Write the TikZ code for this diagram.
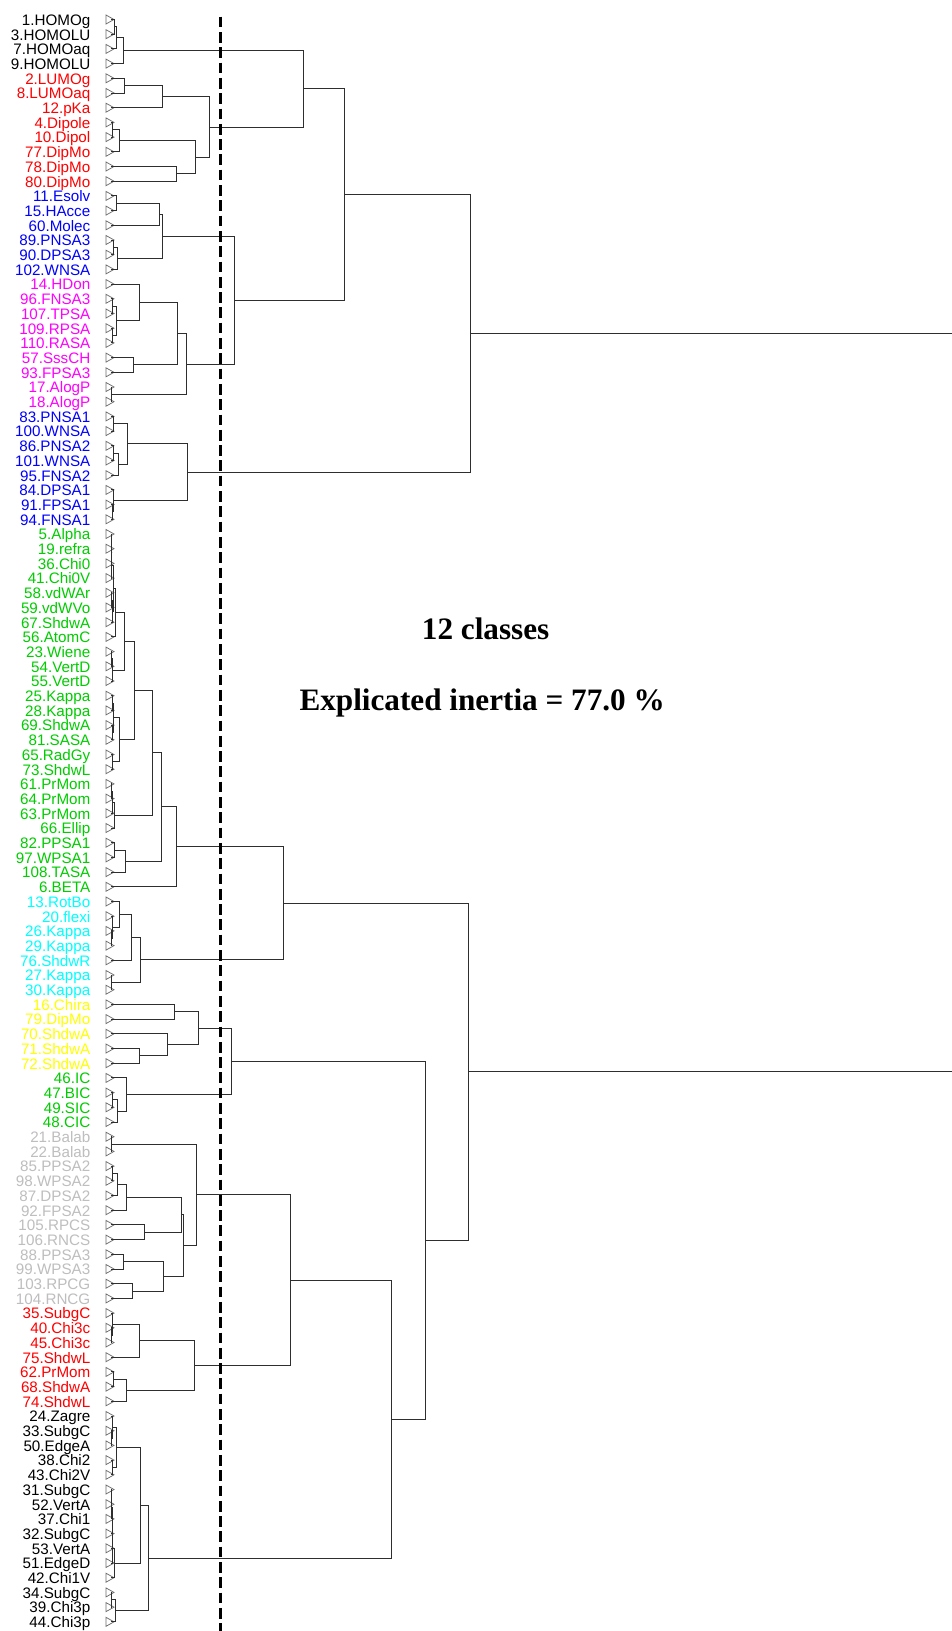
\documentclass[tikz,border=0pt]{standalone}
\usepackage{fontspec}
\usetikzlibrary{calc}
\newfontfamily\labfont{Liberation Sans}
\newfontfamily\titfont{Liberation Serif}
\definecolor{rred}{RGB}{255,0,0}
\definecolor{rblue}{RGB}{0,0,255}
\definecolor{rmag}{RGB}{255,0,255}
\definecolor{rgreen}{RGB}{0,205,0}
\definecolor{rcyan}{RGB}{0,255,255}
\definecolor{ryellow}{RGB}{255,255,0}
\definecolor{rgray}{RGB}{190,190,190}
\definecolor{trigray}{RGB}{110,110,110}
\tikzset{
  lab/.style={anchor=base east,inner sep=0pt,font=\labfont\fontsize{15.2}{18}\selectfont},
  tri/.style={draw=trigray,line width=0.75pt,line join=miter},
  dend/.style={draw=black!82,line width=0.95pt},
  cutline/.style={draw=black,line width=2.7pt,dash pattern=on 10.7pt off 4.6pt},
  ttl/.style={anchor=base west,inner sep=0pt,font=\titfont\bfseries\fontsize{31.2}{36}\selectfont}
}
\newcommand\leafx[3]{%
  \pgfmathsetmacro\ly{19.5+14.7*#1}%
  \pgfmathsetmacro\lb{\ly+5.8}%
  \coordinate (l#1) at (111,\ly);
  \node[lab,text=#3] (t#1) at (90.5,\lb) {#2};
  \pgfmathsetmacro\lya{\ly-4.5}%
  \pgfmathsetmacro\lyb{\ly+4.5}%
  \draw[tri] (106,\lya) -- (106,\lyb) -- (114,\ly) -- cycle;
}
\newcommand\mrg[4]{%
  \path let \p1=(#3), \p2=(#4) in coordinate (#1) at (#2pt,{0.5*(\y1+\y2)});
  \draw[dend] (#3) -- (#3 -| #1) -- (#4 -| #1) -- (#4);
}
\begin{document}
\begin{tikzpicture}[x=1pt,y=-1pt]
\useasboundingbox (0,0) rectangle (952,1631);
\fill[white] (0,0) rectangle (952,1631);
% leaves
\leafx{0}{1.HOMOg}{black}
\leafx{1}{3.HOMOLU}{black}
\leafx{2}{7.HOMOaq}{black}
\leafx{3}{9.HOMOLU}{black}
\leafx{4}{2.LUMOg}{rred}
\leafx{5}{8.LUMOaq}{rred}
\leafx{6}{12.pKa}{rred}
\leafx{7}{4.Dipole}{rred}
\leafx{8}{10.Dipol}{rred}
\leafx{9}{77.DipMo}{rred}
\leafx{10}{78.DipMo}{rred}
\leafx{11}{80.DipMo}{rred}
\leafx{12}{11.Esolv}{rblue}
\leafx{13}{15.HAcce}{rblue}
\leafx{14}{60.Molec}{rblue}
\leafx{15}{89.PNSA3}{rblue}
\leafx{16}{90.DPSA3}{rblue}
\leafx{17}{102.WNSA}{rblue}
\leafx{18}{14.HDon}{rmag}
\leafx{19}{96.FNSA3}{rmag}
\leafx{20}{107.TPSA}{rmag}
\leafx{21}{109.RPSA}{rmag}
\leafx{22}{110.RASA}{rmag}
\leafx{23}{57.SssCH}{rmag}
\leafx{24}{93.FPSA3}{rmag}
\leafx{25}{17.AlogP}{rmag}
\leafx{26}{18.AlogP}{rmag}
\leafx{27}{83.PNSA1}{rblue}
\leafx{28}{100.WNSA}{rblue}
\leafx{29}{86.PNSA2}{rblue}
\leafx{30}{101.WNSA}{rblue}
\leafx{31}{95.FNSA2}{rblue}
\leafx{32}{84.DPSA1}{rblue}
\leafx{33}{91.FPSA1}{rblue}
\leafx{34}{94.FNSA1}{rblue}
\leafx{35}{5.Alpha}{rgreen}
\leafx{36}{19.refra}{rgreen}
\leafx{37}{36.Chi0}{rgreen}
\leafx{38}{41.Chi0V}{rgreen}
\leafx{39}{58.vdWAr}{rgreen}
\leafx{40}{59.vdWVo}{rgreen}
\leafx{41}{67.ShdwA}{rgreen}
\leafx{42}{56.AtomC}{rgreen}
\leafx{43}{23.Wiene}{rgreen}
\leafx{44}{54.VertD}{rgreen}
\leafx{45}{55.VertD}{rgreen}
\leafx{46}{25.Kappa}{rgreen}
\leafx{47}{28.Kappa}{rgreen}
\leafx{48}{69.ShdwA}{rgreen}
\leafx{49}{81.SASA}{rgreen}
\leafx{50}{65.RadGy}{rgreen}
\leafx{51}{73.ShdwL}{rgreen}
\leafx{52}{61.PrMom}{rgreen}
\leafx{53}{64.PrMom}{rgreen}
\leafx{54}{63.PrMom}{rgreen}
\leafx{55}{66.Ellip}{rgreen}
\leafx{56}{82.PPSA1}{rgreen}
\leafx{57}{97.WPSA1}{rgreen}
\leafx{58}{108.TASA}{rgreen}
\leafx{59}{6.BETA}{rgreen}
\leafx{60}{13.RotBo}{rcyan}
\leafx{61}{20.flexi}{rcyan}
\leafx{62}{26.Kappa}{rcyan}
\leafx{63}{29.Kappa}{rcyan}
\leafx{64}{76.ShdwR}{rcyan}
\leafx{65}{27.Kappa}{rcyan}
\leafx{66}{30.Kappa}{rcyan}
\leafx{67}{16.Chira}{ryellow}
\leafx{68}{79.DipMo}{ryellow}
\leafx{69}{70.ShdwA}{ryellow}
\leafx{70}{71.ShdwA}{ryellow}
\leafx{71}{72.ShdwA}{ryellow}
\leafx{72}{46.IC}{rgreen}
\leafx{73}{47.BIC}{rgreen}
\leafx{74}{49.SIC}{rgreen}
\leafx{75}{48.CIC}{rgreen}
\leafx{76}{21.Balab}{rgray}
\leafx{77}{22.Balab}{rgray}
\leafx{78}{85.PPSA2}{rgray}
\leafx{79}{98.WPSA2}{rgray}
\leafx{80}{87.DPSA2}{rgray}
\leafx{81}{92.FPSA2}{rgray}
\leafx{82}{105.RPCS}{rgray}
\leafx{83}{106.RNCS}{rgray}
\leafx{84}{88.PPSA3}{rgray}
\leafx{85}{99.WPSA3}{rgray}
\leafx{86}{103.RPCG}{rgray}
\leafx{87}{104.RNCG}{rgray}
\leafx{88}{35.SubgC}{rred}
\leafx{89}{40.Chi3c}{rred}
\leafx{90}{45.Chi3c}{rred}
\leafx{91}{75.ShdwL}{rred}
\leafx{92}{62.PrMom}{rred}
\leafx{93}{68.ShdwA}{rred}
\leafx{94}{74.ShdwL}{rred}
\leafx{95}{24.Zagre}{black}
\leafx{96}{33.SubgC}{black}
\leafx{97}{50.EdgeA}{black}
\leafx{98}{38.Chi2}{black}
\leafx{99}{43.Chi2V}{black}
\leafx{100}{31.SubgC}{black}
\leafx{101}{52.VertA}{black}
\leafx{102}{37.Chi1}{black}
\leafx{103}{32.SubgC}{black}
\leafx{104}{53.VertA}{black}
\leafx{105}{51.EdgeD}{black}
\leafx{106}{42.Chi1V}{black}
\leafx{107}{34.SubgC}{black}
\leafx{108}{39.Chi3p}{black}
\leafx{109}{44.Chi3p}{black}
% HOMO
\mrg{a1}{114.5}{l0}{l1}
\mrg{a2}{116}{a1}{l2}
\mrg{a3}{123.3}{a2}{l3}
% red
\mrg{d1}{124.3}{l4}{l5}
\mrg{d2}{162.3}{d1}{l6}
\mrg{f1}{112.7}{l7}{l8}
\mrg{f2}{119}{f1}{l9}
\mrg{h1}{176.7}{l10}{l11}
\mrg{i1}{195.3}{f2}{h1}
\mrg{j1}{209}{d2}{i1}
\mrg{k1}{303.3}{a3}{j1}
% blue
\mrg{m1}{116.7}{l12}{l13}
\mrg{m2}{159.5}{m1}{l14}
\mrg{o1}{113.3}{l15}{l16}
\mrg{o2}{117.3}{o1}{l17}
\mrg{q1}{162.3}{m2}{o2}
% magenta
\mrg{r1}{112.7}{l19}{l20}
\mrg{s1}{112.5}{l21}{l22}
\mrg{t1}{116.7}{r1}{s1}
\mrg{u1}{139.3}{l18}{t1}
\mrg{v1}{133.3}{l23}{l24}
\mrg{w1}{177.7}{u1}{v1}
\mrg{x1}{111.5}{l25}{l26}
\mrg{y1}{186.7}{w1}{x1}
\mrg{bm}{234.3}{q1}{y1}
\mrg{topa}{344.3}{k1}{bm}
% blue 2
\mrg{z1}{113.3}{l27}{l28}
\mrg{z2}{113.3}{l29}{l30}
\mrg{z3}{118.3}{z2}{l31}
\mrg{z4}{127.3}{z1}{z3}
\mrg{z5}{112}{l33}{l34}
\mrg{z6}{113.5}{l32}{z5}
\mrg{z7}{187.3}{z4}{z6}
\mrg{TOP}{470.7}{topa}{z7}
% green
\mrg{g1}{111.3}{l35}{l36}
\mrg{g2}{111.5}{g1}{l37}
\mrg{g3}{111.8}{g2}{l38}
\mrg{g4}{111.4}{l39}{l40}
\mrg{g5}{112}{g4}{l41}
\mrg{g6}{113}{g3}{g5}
\mrg{g7}{115.3}{g6}{l42}
\mrg{g8}{111.3}{l43}{l44}
\mrg{g9}{112}{g8}{l45}
\mrg{g10}{124}{g7}{g9}
\mrg{g11}{112}{l46}{l47}
\mrg{g12}{112}{l48}{l49}
\mrg{g13}{113}{g11}{g12}
\mrg{g14}{112}{l50}{l51}
\mrg{g15}{119.3}{g13}{g14}
\mrg{g16}{134}{g10}{g15}
\mrg{p1}{111.3}{l52}{l53}
\mrg{p2}{112}{p1}{l54}
\mrg{p3}{114}{p2}{l55}
\mrg{g17}{152.3}{g16}{p3}
\mrg{ta1}{114.3}{l56}{l57}
\mrg{ta2}{125.7}{ta1}{l58}
\mrg{g18}{161.3}{g17}{ta2}
\mrg{g19}{176}{g18}{l59}
% cyan
\mrg{c1}{111.3}{l62}{l63}
\mrg{c2}{112}{l61}{c1}
\mrg{c3}{119.3}{l60}{c2}
\mrg{c4}{131}{c3}{l64}
\mrg{c5}{111.5}{l65}{l66}
\mrg{c6}{140.7}{c4}{c5}
\mrg{gc}{283}{g19}{c6}
% yellow
\mrg{ye1}{174}{l67}{l68}
\mrg{ye2}{139.3}{l70}{l71}
\mrg{ye3}{167.3}{l69}{ye2}
\mrg{ye4}{198.3}{ye1}{ye3}
% IC
\mrg{ic1}{112.7}{l73}{l74}
\mrg{ic2}{117.3}{ic1}{l75}
\mrg{ic3}{126}{l72}{ic2}
\mrg{yi}{231.3}{ye4}{ic3}
% gray
\mrg{gr1}{111.5}{l76}{l77}
\mrg{gr2}{112.7}{l78}{l79}
\mrg{gr3}{117.3}{gr2}{l80}
\mrg{gr4}{126}{gr3}{l81}
\mrg{gr5}{144.3}{l82}{l83}
\mrg{gr6}{181.7}{gr4}{gr5}
\mrg{gr7}{123.3}{l84}{l85}
\mrg{gr8}{132.7}{l86}{l87}
\mrg{gr9}{163.3}{gr7}{gr8}
\mrg{gr10}{183.3}{gr6}{gr9}
\mrg{gr11}{196.3}{gr1}{gr10}
% red 2
\mrg{rr1}{111.5}{l89}{l90}
\mrg{rr2}{112.7}{l88}{rr1}
\mrg{rr3}{139.3}{rr2}{l91}
\mrg{rr4}{113.3}{l92}{l93}
\mrg{rr5}{126}{rr4}{l94}
\mrg{rr6}{194.3}{rr3}{rr5}
\mrg{grr}{290.7}{gr11}{rr6}
% black
\mrg{b1}{111.5}{l96}{l97}
\mrg{b2}{112.3}{l95}{b1}
\mrg{b3}{112}{l98}{l99}
\mrg{b4}{116.3}{b2}{b3}
\mrg{kk1}{111.3}{l100}{l101}
\mrg{kk2}{111.6}{kk1}{l102}
\mrg{kk3}{112}{kk2}{l103}
\mrg{kk4}{112.4}{kk3}{l104}
\mrg{kk5}{112.8}{kk4}{l105}
\mrg{kk6}{114}{kk5}{l106}
\mrg{bb1}{140.7}{b4}{kk6}
\mrg{e1}{111.5}{l107}{l108}
\mrg{e2}{115.3}{e1}{l109}
\mrg{bb2}{148}{bb1}{e2}
\mrg{gb}{391.7}{grr}{bb2}
\mrg{yg}{425.7}{yi}{gb}
\mrg{BOT}{468.7}{gc}{yg}
\mrg{root}{954}{TOP}{BOT}
% cut line
\coordinate (cutA) at (220.3,16.7);
\coordinate (cutB) at (220.3,1631);
\draw[cutline] (cutA) -- (cutB);
% titles
\node[ttl] (cls) at (421.7,639.3) {12 classes};
\node[ttl] (inert) at (299.3,710) {Explicated inertia = 77.0 \%};
\end{tikzpicture}
\end{document}
